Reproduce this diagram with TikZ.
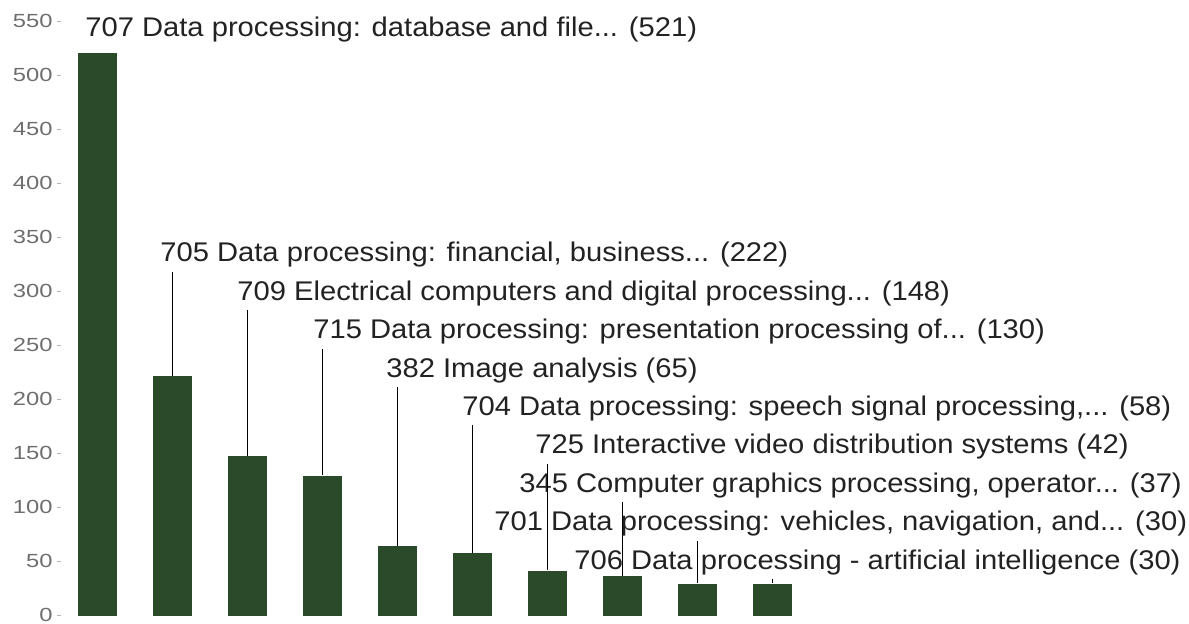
\documentclass[tikz,border=0pt]{standalone}
\usepackage{fontspec}
\setmainfont[FakeStretch=1.08]{Liberation Sans}
\newfontfamily\tickfont[FakeStretch=1.25]{Liberation Sans}
\definecolor{bargreen}{HTML}{2A4A2A}
\definecolor{labgray}{HTML}{222222}
\definecolor{tickgray}{HTML}{6E6E6E}
\begin{document}
\begin{tikzpicture}[x=0.5pt,y=-0.5pt,
  bar/.style={fill=bargreen, draw=none, inner sep=0pt, minimum width=19.25pt, anchor=south},
  lab/.style={anchor=base west, inner sep=0pt, text=labgray, font=\fontsize{13.5pt}{16pt}\selectfont},
  ticklab/.style={anchor=east, inner sep=0pt, text=tickgray, font=\tickfont\fontsize{9.5pt}{11pt}\selectfont},
  tickmark/.style={draw=tickgray!50, line width=0.4pt},
  leader/.style={draw=black, line width=0.9pt}]
\useasboundingbox (0,0) rectangle (1189,623);
% y axis labels
\foreach \t in {0,50,...,550} {
  \node[ticklab] (y\t) at (53,{615-\t*1.08}) {\t};
  \draw[tickmark] ([xshift=2pt]y\t.east) -- ++(4,0);
}
% bars
\foreach \i/\v in {0/521,1/222,2/148,3/130,4/65,5/58,6/42,7/37,8/30,9/30} {
  \node[bar, minimum height=\v*0.54pt] (b\i) at ({97.5+75*\i},616.5) {};
}
% labels
\foreach \i/\x/\y/\t in {
  0/85/36/{707 Data processing: database and file... (521)},
  1/160/261.7/{705 Data processing: financial, business... (222)},
  2/237/300/{709 Electrical computers and digital processing... (148)},
  3/313/338.5/{715 Data processing: presentation processing of... (130)},
  4/386/377/{382 Image analysis (65)},
  5/462/415/{704 Data processing: speech signal processing,... (58)},
  6/535/453.5/{725 Interactive video distribution systems (42)},
  7/519/492/{345 Computer graphics processing, operator... (37)},
  8/494/530.5/{701 Data processing: vehicles, navigation, and... (30)},
  9/574/569/{706 Data processing - artificial intelligence (30)}} {
  \node[lab] (l\i) at (\x,\y) {\t};
}
% leader lines
\foreach \i/\y in {1/261.7,2/300,3/338.5,4/377,5/415,6/453.5,7/492,8/530.5,9/569} {
  \coordinate (t\i) at ({97.5+75*\i},{\y+10});
  \draw[leader] (b\i.north) -- (t\i);
}
\end{tikzpicture}
\end{document}
